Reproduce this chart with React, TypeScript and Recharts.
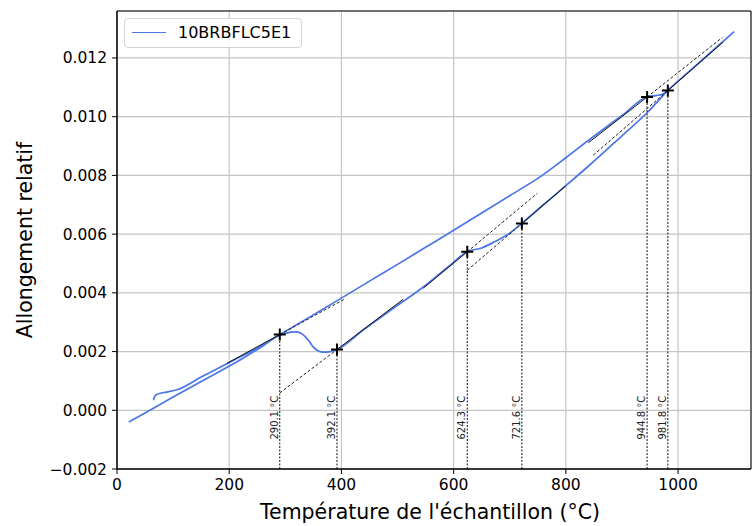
import React from "react";
import {
  ComposedChart,
  Line,
  Scatter,
  XAxis,
  YAxis,
  CartesianGrid,
  ReferenceArea,
  Label,
} from "recharts";

const seriesName = "10BRBFLC5E1";

// heating branch (°C, relative elongation)
const heatTemp = [65, 67, 70, 76, 88, 107, 150, 200, 250, 290, 350, 400, 450, 500, 550, 600, 650, 700, 758, 800, 840, 900, 944, 960, 972, 981, 1000, 1050, 1100];
const heatStrain = [0.00034, 0.00046, 0.00053, 0.00057, 0.00062, 0.0007, 0.00113, 0.00163, 0.00212, 0.00257, 0.00325, 0.00382, 0.0044, 0.00497, 0.00555, 0.00613, 0.00672, 0.00731, 0.008, 0.0086, 0.00919, 0.01004, 0.01067, 0.01072, 0.01076, 0.01089, 0.01121, 0.01205, 0.0129];

// cooling branch
const coolTemp = [21, 50, 100, 150, 220, 260, 290, 300, 310, 320, 327, 335, 343, 350, 358, 368, 380, 392, 440, 487, 546, 590, 624, 650, 672, 700, 721, 760, 800, 844, 900, 943, 981];
const coolStrain = [-0.0004, -0.00009, 0.00045, 0.00098, 0.00172, 0.00219, 0.00256, 0.00262, 0.00266, 0.00267, 0.00263, 0.00252, 0.00234, 0.00215, 0.00203, 0.00198, 0.002, 0.00207, 0.00275, 0.0034, 0.0042, 0.00488, 0.0054, 0.00553, 0.00573, 0.00603, 0.00636, 0.007, 0.00765, 0.00838, 0.00935, 0.0101, 0.01089];

// transformation points
const transTemp = [290.1, 392.1, 624.3, 721.6, 944.8, 981.8];
const transStrain = [0.00258, 0.00207, 0.0054, 0.00636, 0.01067, 0.01089];

// tangent fits: solid part over the curve, dashed extension
const fitSolid = [
  [[196, 0.0016], [290.1, 0.00258]],
  [[392.1, 0.00207], [510, 0.00378]],
  [[546, 0.00416], [624.3, 0.0054]],
  [[721.6, 0.00636], [800, 0.00765]],
  [[840, 0.00911], [944.8, 0.01067]],
  [[981.8, 0.01089], [1080, 0.01254]],
];
const fitDashed = [
  [[290.1, 0.00258], [407, 0.0038]],
  [[290.1, 0.00059], [392.1, 0.00207]],
  [[624.3, 0.0054], [749, 0.00739]],
  [[624.3, 0.00477], [721.6, 0.00636]],
  [[944.8, 0.01067], [1079, 0.0127]],
  [[849, 0.00869], [981.8, 0.01089]],
];

const labelLevel = -0.00025;
const xTicks = [0, 200, 400, 600, 800, 1000];
const yTicks = [-0.002, 0, 0.002, 0.004, 0.006, 0.008, 0.01, 0.012];

const FONT = "DejaVu Sans, sans-serif";
const BLUE = "#4a76e6";

const pairs = (xs: number[], ys: number[]) => xs.map((x, i) => ({ x, y: ys[i] }));
const seg = (s: number[][]) => s.map(([x, y]) => ({ x, y }));

const fmtY = (v: number) => (v < -1e-9 ? "\u2212" : "") + Math.abs(v).toFixed(3);

const PlusMark = (p: any) => {
  const { cx, cy } = p;
  return (
    <path
      d={`M${cx - 6},${cy}H${cx + 6}M${cx},${cy - 6}V${cy + 6}`}
      stroke="#000"
      strokeWidth={2}
      fill="none"
    />
  );
};

const TempLabel = (p: any) => {
  const { cx, cy, payload } = p;
  const bx = cx - 2;
  return (
    <text
      x={bx}
      y={cy}
      transform={`rotate(-90 ${bx} ${cy})`}
      textAnchor="middle"
      fontSize={10}
      fontFamily={FONT}
      fill="#222"
    >
      {payload.label}
    </text>
  );
};

export default function App() {
  const heating = pairs(heatTemp, heatStrain);
  const cooling = pairs(coolTemp, coolStrain);
  const marks = pairs(transTemp, transStrain);
  const labels = transTemp.map((t) => ({ x: t, y: labelLevel, label: `${t.toFixed(1)} °C` }));

  return (
    <div style={{ position: "absolute", left: 0, top: 0, width: 754, height: 526, background: "#fff" }}>
      <ComposedChart width={754} height={526} margin={{ top: 11, right: 3, bottom: 0, left: 0 }}>
        <CartesianGrid stroke="#c4c4c4" strokeWidth={1.2} />
        <XAxis
          dataKey="x"
          type="number"
          domain={[0, 1130]}
          ticks={xTicks}
          interval={0}
          height={57}
          tickSize={5}
          tickMargin={5}
          stroke="#000"
          tick={{ fontSize: 15.5, fill: "#000", fontFamily: FONT }}
        >
          <Label
            content={() => (
              <text x={430} y={519} textAnchor="middle" fontSize={20.5} fontFamily={FONT} fill="#000">
                Température de l'échantillon (°C)
              </text>
            )}
          />
        </XAxis>
        <YAxis
          type="number"
          domain={[-0.002, 0.0136]}
          ticks={yTicks}
          interval={0}
          width={117}
          tickSize={5}
          tickMargin={5}
          stroke="#000"
          tickFormatter={fmtY}
          tick={{ fontSize: 15.5, fill: "#000", fontFamily: FONT }}
        >
          <Label
            content={() => (
              <text
                x={32}
                y={240}
                transform="rotate(-90 32 240)"
                textAnchor="middle"
                fontSize={20.5}
                fontFamily={FONT}
                fill="#000"
              >
                Allongement relatif
              </text>
            )}
          />
        </YAxis>
        <ReferenceArea x1={0} x2={1130} y1={-0.002} y2={0.0136} fill="none" stroke="#000" strokeWidth={1} />

        <Line data={heating} dataKey="y" type="monotone" stroke={BLUE} strokeWidth={1.7} dot={false} isAnimationActive={false} />
        <Line data={cooling} dataKey="y" type="monotone" stroke={BLUE} strokeWidth={1.7} dot={false} isAnimationActive={false} />

        {fitSolid.map((s, i) => (
          <Line key={"s" + i} data={seg(s)} dataKey="y" type="linear" stroke="#111" strokeWidth={1} dot={false} isAnimationActive={false} />
        ))}
        {fitDashed.map((s, i) => (
          <Line key={"d" + i} data={seg(s)} dataKey="y" type="linear" stroke="#222" strokeWidth={1} strokeDasharray="3 2" dot={false} isAnimationActive={false} />
        ))}
        {transTemp.map((t, i) => (
          <Line
            key={"v" + i}
            data={[{ x: t, y: -0.002 }, { x: t, y: transStrain[i] }]}
            dataKey="y"
            type="linear"
            stroke="#111"
            strokeWidth={1}
            strokeDasharray="2 1.5"
            dot={false}
            isAnimationActive={false}
          />
        ))}
        <Scatter data={marks} dataKey="y" shape={PlusMark} isAnimationActive={false} />
        <Scatter data={labels} dataKey="y" shape={TempLabel} isAnimationActive={false} />
      </ComposedChart>

      <div
        style={{
          position: "absolute",
          left: 124,
          top: 18,
          width: 178,
          height: 30,
          border: "1px solid #d4d4d4",
          borderRadius: 4,
          background: "rgba(255,255,255,0.85)",
          boxSizing: "border-box",
          fontFamily: FONT,
        }}
      >
        <div style={{ position: "absolute", left: 7, top: 13, width: 34, borderTop: `1.7px solid ${BLUE}` }} />
        <div style={{ position: "absolute", left: 53, top: 4, fontSize: 16, lineHeight: "20px", color: "#000" }}>
          {seriesName}
        </div>
      </div>
    </div>
  );
}
